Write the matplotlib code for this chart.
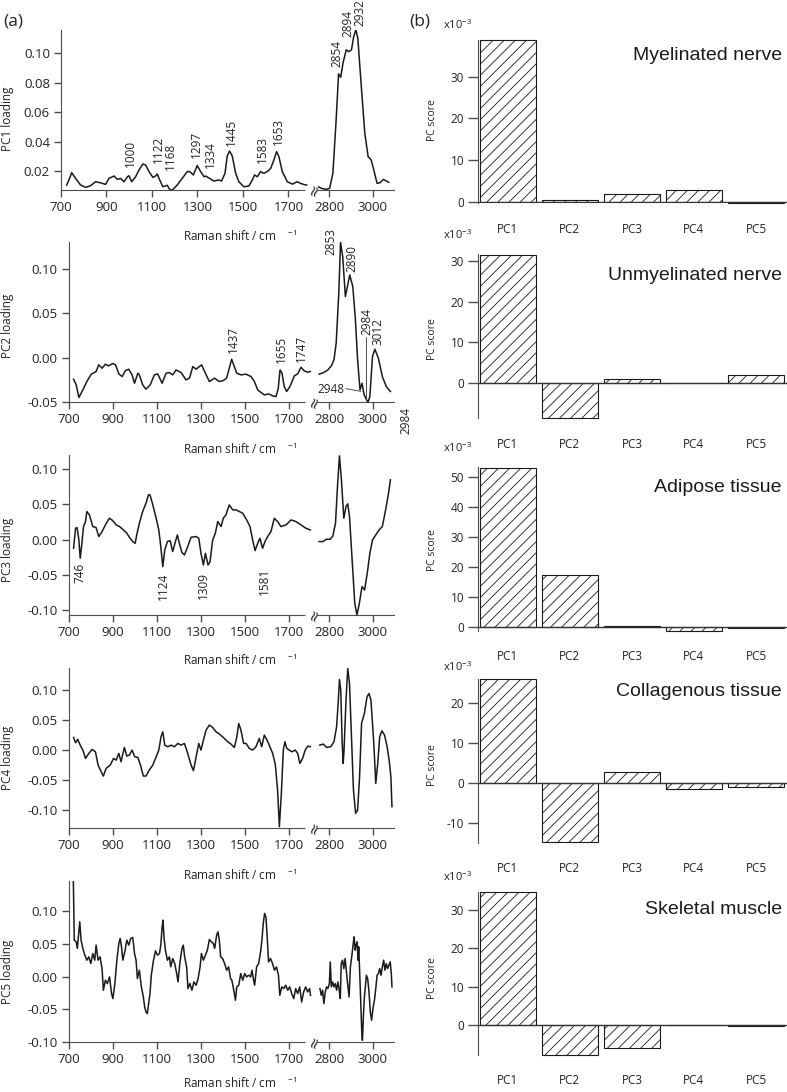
import numpy as np
import matplotlib
matplotlib.use("Agg")
import matplotlib.pyplot as plt
from matplotlib.ticker import FormatStrFormatter

plt.rcParams['font.family'] = ['Open Sans', 'DejaVu Sans']
plt.rcParams['mathtext.default'] = 'regular'
plt.rcParams['axes.unicode_minus'] = False
plt.rcParams['hatch.linewidth'] = 0.6

# PC loadings: (Raman shift / cm-1, loading)
pc1 = np.array([
    (725, 0.0105), (735, 0.0139), (747, 0.0189), (764, 0.015), (786, 0.0105), (808, 0.0089),
    (830, 0.010), (852, 0.0127), (874, 0.012), (896, 0.0109), (911, 0.015), (933, 0.0166),
    (948, 0.0143), (962, 0.015), (977, 0.0127), (992, 0.0161), (999, 0.0168), (1011, 0.0127),
    (1028, 0.0161), (1043, 0.0207), (1060, 0.0248), (1072, 0.0241), (1087, 0.0196), (1104, 0.0157),
    (1116, 0.0166), (1123, 0.018), (1134, 0.0139), (1148, 0.0093), (1167, 0.0103), (1178, 0.0075),
    (1189, 0.007), (1211, 0.0105), (1233, 0.015), (1255, 0.0196), (1266, 0.0196), (1282, 0.0173),
    (1299, 0.0237), (1314, 0.0196), (1329, 0.0161), (1336, 0.0166), (1353, 0.015), (1372, 0.0132),
    (1394, 0.0139), (1406, 0.0132), (1421, 0.0184), (1431, 0.0302), (1441, 0.0336), (1453, 0.0302),
    (1468, 0.0184), (1482, 0.0127), (1504, 0.0093), (1526, 0.0098), (1541, 0.0139), (1551, 0.0173),
    (1563, 0.0161), (1578, 0.0196), (1592, 0.0184), (1607, 0.0196), (1622, 0.0218), (1636, 0.0275),
    (1648, 0.0332), (1658, 0.0298), (1673, 0.0196), (1695, 0.0127), (1717, 0.0111), (1739, 0.0127),
    (1753, 0.0116), (1775, 0.0105), (1793, 0.0105),
    (2752, 0.0093), (2766, 0.0082), (2788, 0.0075), (2803, 0.0082), (2818, 0.0184), (2832, 0.0524),
    (2844, 0.086), (2854, 0.0837), (2864, 0.0932), (2879, 0.1023), (2891, 0.1011), (2903, 0.1023),
    (2913, 0.1113), (2923, 0.1159), (2932, 0.1102), (2949, 0.0751), (2964, 0.0456), (2979, 0.0298),
    (2993, 0.0275), (3005, 0.0207), (3020, 0.0116), (3034, 0.0121), (3049, 0.0143), (3063, 0.0132),
    (3073, 0.0123)])

pc2 = np.array([
    (723, -0.0244), (735, -0.0307), (747, -0.0449), (765, -0.0364), (783, -0.027), (803, -0.0187),
    (825, -0.0157), (837, -0.0082), (852, -0.012), (867, -0.0075), (882, -0.0094), (900, -0.0067),
    (913, -0.0082), (928, -0.0184), (943, -0.0214), (958, -0.0146), (973, -0.0131), (988, -0.0195),
    (999, -0.0289), (1014, -0.0176), (1021, -0.0195), (1036, -0.0307), (1051, -0.0356), (1070, -0.0307),
    (1089, -0.0195), (1104, -0.0184), (1124, -0.0289), (1142, -0.0176), (1157, -0.0169), (1172, -0.0195),
    (1187, -0.0139), (1210, -0.0169), (1232, -0.0251), (1248, -0.0232), (1263, -0.0101), (1278, -0.0131),
    (1293, -0.0101), (1303, -0.0082), (1320, -0.0176), (1338, -0.027), (1361, -0.0232), (1383, -0.027),
    (1401, -0.0259), (1416, -0.0232), (1428, -0.012), (1439, -0.0019), (1451, -0.0101), (1462, -0.0176),
    (1481, -0.0195), (1504, -0.0187), (1527, -0.0214), (1542, -0.027), (1557, -0.0364), (1572, -0.0394),
    (1587, -0.042), (1606, -0.0409), (1625, -0.0431), (1640, -0.0439), (1650, -0.0345), (1658, -0.0139),
    (1667, -0.0176), (1677, -0.0326), (1688, -0.0382), (1703, -0.0326), (1723, -0.0206), (1738, -0.0184),
    (1753, -0.0109), (1768, -0.015), (1783, -0.0165), (1795, -0.0157),
    (2755, -0.0187), (2776, -0.0169), (2795, -0.0139), (2811, -0.0094), (2823, -0.0026), (2833, 0.0161),
    (2845, 0.0724), (2853, 0.1297), (2863, 0.1136), (2875, 0.0686), (2886, 0.0817), (2895, 0.093),
    (2909, 0.0799), (2921, 0.0424), (2931, -0.0026), (2942, -0.0364), (2951, -0.0289), (2961, -0.042),
    (2978, -0.0506), (2987, -0.0439), (2999, 0.0011), (3010, 0.0094), (3026, -0.0008), (3044, -0.0214),
    (3062, -0.0326), (3081, -0.0382)])

pc3 = np.array([
    (723, -0.0123), (732, 0.0161), (739, 0.017), (747, -0.0005), (753, -0.0265), (760, -0.0076),
    (768, 0.0185), (777, 0.0256), (783, 0.0398), (795, 0.035), (810, 0.0185), (825, 0.017),
    (837, 0.0043), (852, 0.0114), (867, 0.0208), (885, 0.0303), (900, 0.027), (916, 0.0208),
    (931, 0.0185), (949, 0.0137), (964, 0.009), (979, 0.0019), (991, -0.0028), (1002, -0.0052),
    (1009, 0.0066), (1021, 0.0232), (1036, 0.0398), (1051, 0.0516), (1062, 0.0634), (1069, 0.0634),
    (1082, 0.0492), (1097, 0.0303), (1109, 0.0137), (1118, -0.0099), (1127, -0.0384), (1136, -0.0147),
    (1148, -0.0028), (1160, -0.0014), (1172, -0.017), (1183, -0.0043), (1193, 0.0066), (1202, -0.0052),
    (1214, -0.0185), (1225, -0.0218), (1240, -0.0099), (1255, 0.0033), (1278, 0.0043), (1290, 0.0019),
    (1300, -0.0194), (1311, -0.036), (1320, -0.0194), (1332, -0.036), (1341, -0.0313), (1353, -0.0005),
    (1365, 0.009), (1376, 0.0256), (1391, 0.0185), (1401, 0.0303), (1413, 0.035), (1428, 0.0492),
    (1444, 0.0421), (1459, 0.0421), (1474, 0.0398), (1489, 0.0374), (1507, 0.0279), (1522, 0.0185),
    (1534, -0.0005), (1545, -0.0156), (1557, -0.0052), (1567, 0.0019), (1579, -0.0123), (1590, -0.0028),
    (1602, 0.0043), (1617, 0.0114), (1632, 0.0303), (1647, 0.0256), (1662, 0.0185), (1685, 0.0208),
    (1708, 0.0279), (1730, 0.0256), (1753, 0.0208), (1775, 0.0161), (1795, 0.0137),
    (2755, -0.0028), (2773, -0.0028), (2788, 0.0005), (2806, 0.0005), (2818, 0.0052), (2830, 0.0232),
    (2839, 0.0753), (2848, 0.1188), (2857, 0.0848), (2868, 0.0303), (2878, 0.0469), (2886, 0.0507),
    (2894, 0.0327), (2906, -0.0289), (2918, -0.0904), (2928, -0.107), (2939, -0.0904), (2951, -0.0668),
    (2963, -0.0715), (2975, -0.0478), (2987, -0.0194), (2999, -0.0005), (3014, 0.0066), (3029, 0.0137),
    (3044, 0.0185), (3059, 0.0421), (3071, 0.0634), (3081, 0.0848)])

pc4 = np.array([
    (723, 0.0211), (732, 0.0122), (742, 0.0178), (753, 0.0083), (765, 0.0), (777, -0.0139),
    (792, -0.0056), (807, 0.0011), (822, -0.0028), (834, -0.025), (848, -0.0361), (858, -0.0433),
    (870, -0.0306), (889, -0.025), (904, -0.0139), (916, -0.0167), (928, -0.0056), (938, -0.0194),
    (953, 0.0044), (964, -0.01), (976, -0.0083), (988, 0.0), (1000, -0.0111), (1014, -0.0122),
    (1026, -0.025), (1039, -0.0433), (1051, -0.0433), (1066, -0.0333), (1082, -0.025), (1097, -0.0111),
    (1109, 0.0), (1119, 0.0222), (1127, 0.0306), (1136, 0.0083), (1149, 0.0056), (1165, 0.0083),
    (1180, 0.0056), (1195, 0.0111), (1210, 0.0083), (1225, 0.0111), (1240, -0.0056), (1255, -0.025),
    (1266, -0.0344), (1278, -0.0111), (1290, 0.0111), (1300, 0.0), (1311, 0.0167), (1323, 0.0333),
    (1338, 0.0417), (1353, 0.0378), (1368, 0.0306), (1383, 0.0267), (1401, 0.0211), (1421, 0.0139),
    (1436, 0.01), (1451, 0.0044), (1462, 0.0211), (1471, 0.0444), (1481, 0.0333), (1493, 0.0111),
    (1504, 0.0111), (1519, 0.0028), (1534, 0.0), (1549, 0.0056), (1564, 0.0194), (1575, 0.0056),
    (1587, 0.025), (1599, 0.0167), (1612, 0.0056), (1625, -0.0056), (1637, -0.025), (1647, -0.0667),
    (1655, -0.1278), (1664, -0.0722), (1673, 0.0), (1680, 0.0139), (1689, 0.0028), (1700, 0.0),
    (1712, -0.0028), (1727, 0.0), (1738, -0.0056), (1748, -0.0222), (1760, -0.0139), (1772, 0.0),
    (1784, 0.0067), (1795, 0.0056),
    (2758, 0.0083), (2774, 0.01), (2789, 0.0044), (2808, 0.0056), (2823, 0.0139), (2835, 0.0389),
    (2842, 0.0778), (2848, 0.1178), (2854, 0.1), (2860, 0.0167), (2865, -0.0222), (2869, 0.0),
    (2878, 0.0833), (2886, 0.1361), (2894, 0.1111), (2903, 0.0222), (2912, -0.0667), (2922, -0.1056),
    (2931, -0.1), (2940, -0.0444), (2949, 0.0444), (2962, 0.0611), (2974, 0.0889), (2983, 0.0944),
    (2992, 0.0833), (3005, 0.0111), (3014, -0.0556), (3023, -0.0222), (3032, 0.0222), (3042, 0.0322),
    (3054, 0.025), (3066, 0.0056), (3076, -0.0194), (3083, -0.0444), (3088, -0.0944)])

pc5 = np.array([
    (722, 0.147), (726, 0.0556), (735, 0.053), (740, 0.0429), (747, 0.0684), (751, 0.0837),
    (757, 0.0556), (765, 0.0429), (774, 0.0327), (783, 0.025), (792, 0.0301), (801, 0.0199),
    (810, 0.0352), (819, 0.025), (825, 0.048), (834, 0.025), (843, 0.0301), (852, 0.0122),
    (858, -0.0209), (867, -0.0056), (876, -0.0107), (886, -0.0005), (895, -0.026), (901, -0.0337),
    (910, -0.0107), (919, 0.025), (928, 0.0505), (934, 0.0582), (940, 0.0454), (946, 0.025),
    (955, 0.0378), (964, 0.0556), (973, 0.048), (982, 0.0582), (991, 0.0597), (999, 0.0352),
    (1006, 0.025), (1012, -0.0031), (1021, 0.0097), (1030, -0.0158), (1039, -0.0311), (1045, -0.0464),
    (1051, -0.0541), (1057, -0.0566), (1063, -0.0413), (1069, -0.026), (1075, 0.002), (1085, 0.025),
    (1094, 0.0393), (1103, 0.0327), (1112, 0.0352), (1118, 0.048), (1124, 0.076), (1128, 0.0862),
    (1133, 0.0582), (1139, 0.0403), (1148, 0.025), (1157, 0.0301), (1163, 0.0148), (1172, 0.0276),
    (1181, 0.0199), (1190, 0.0046), (1196, -0.0082), (1205, 0.0224), (1214, 0.0429), (1220, 0.048),
    (1226, 0.0301), (1235, 0.0148), (1241, -0.0184), (1250, -0.0107), (1259, -0.0209), (1268, -0.0082),
    (1278, -0.0133), (1287, -0.0031), (1296, 0.0148), (1302, 0.0352), (1311, 0.025), (1320, 0.0327),
    (1329, 0.0403), (1338, 0.0566), (1347, 0.0531), (1356, 0.0505), (1362, 0.0429), (1371, 0.0633),
    (1377, 0.0684), (1383, 0.0556), (1389, 0.0301), (1398, 0.0276), (1407, 0.0199), (1416, 0.0097),
    (1425, 0.0148), (1434, -0.0031), (1440, -0.0056), (1450, -0.0235), (1456, -0.0362), (1462, -0.0158),
    (1471, -0.0133), (1480, 0.0046), (1489, -0.0056), (1498, 0.0046), (1507, -0.0005), (1516, 0.002),
    (1525, -0.0005), (1531, 0.0097), (1537, -0.0031), (1543, -0.0133), (1552, 0.0148), (1561, 0.0199),
    (1570, 0.0378), (1576, 0.0556), (1582, 0.0811), (1588, 0.0964), (1594, 0.0913), (1600, 0.0607),
    (1606, 0.0224), (1615, 0.0276), (1624, 0.0199), (1633, 0.0097), (1642, 0.0148), (1651, 0.002),
    (1657, -0.0286), (1666, -0.0158), (1675, -0.0184), (1684, -0.0133), (1693, -0.0209), (1702, -0.0158),
    (1711, -0.026), (1720, -0.0337), (1729, -0.0184), (1738, -0.026), (1747, -0.0158), (1756, -0.0388),
    (1765, -0.0235), (1774, -0.0158), (1783, -0.0235), (1792, -0.0184), (1796, -0.0286),
    (2759, -0.0184), (2765, -0.0286), (2771, -0.0209), (2777, -0.0413), (2783, -0.0235), (2789, -0.0158),
    (2795, -0.0184), (2802, -0.0107), (2806, 0.0224), (2811, -0.0158), (2817, -0.0082), (2823, -0.0158),
    (2829, -0.0107), (2835, -0.0209), (2841, -0.0082), (2847, -0.0209), (2852, -0.0337), (2856, 0.0199),
    (2862, 0.025), (2868, 0.0122), (2874, 0.0276), (2880, 0.0071), (2886, -0.0133), (2892, -0.0311),
    (2898, 0.0148), (2905, 0.0327), (2911, 0.0505), (2915, 0.0607), (2920, 0.0403), (2924, 0.048),
    (2929, 0.0531), (2933, 0.025), (2936, 0.0454), (2941, 0.002), (2945, -0.0362), (2950, -0.0847),
    (2953, -0.0974), (2958, -0.0566), (2962, -0.0311), (2967, -0.0133), (2971, 0.002), (2977, -0.0031),
    (2983, -0.0235), (2989, -0.0541), (2995, -0.0668), (3002, -0.0464), (3008, -0.0362), (3014, -0.0184),
    (3020, 0.002), (3026, 0.0046), (3032, 0.0122), (3038, 0.002), (3044, 0.0148), (3050, 0.025),
    (3056, 0.0097), (3062, 0.0199), (3068, 0.0122), (3074, 0.0173), (3080, 0.0224), (3085, 0.0046),
    (3088, -0.0158)])

loadings = [pc1, pc2, pc3, pc4, pc5]
loading_names = ['PC1 loading', 'PC2 loading', 'PC3 loading', 'PC4 loading', 'PC5 loading']
loading_ylims = [(0.0071, 0.1158), (-0.05, 0.130), (-0.107, 0.120), (-0.13, 0.137), (-0.10, 0.146)]
loading_yticks = [[0.02, 0.04, 0.06, 0.08, 0.10],
                  [-0.05, 0.0, 0.05, 0.10],
                  [-0.10, -0.05, 0.0, 0.05, 0.10],
                  [-0.10, -0.05, 0.0, 0.05, 0.10],
                  [-0.10, -0.05, 0.0, 0.05, 0.10]]

# peak labels: (text, shift, loading at text edge)
peaks_pc1 = [('1000', 1006, 0.0229), ('1122', 1128, 0.0254), ('1168', 1182, 0.0207),
             ('1297', 1297, 0.0288), ('1334', 1355, 0.022), ('1445', 1448, 0.0372),
             ('1583', 1585, 0.0254), ('1653', 1656, 0.0377), ('2854', 2836, 0.0909),
             ('2894', 2889, 0.1113), ('2932', 2943, 0.1186)]
peaks_pc2 = [('1437', 1445, 0.005), ('1655', 1664, -0.0063), ('1747', 1754, -0.0045),
             ('2853', 2811, 0.1157), ('2890', 2903, 0.0968), ('2984', 2972, 0.0256),
             ('3012', 3025, 0.0143)]
peaks_pc3 = [('746', 752, -0.0335), ('1124', 1129, -0.0477), ('1309', 1313, -0.0455),
             ('1581', 1588, -0.0406)]

# PC scores (x10^-3)
pc_names = ['PC1', 'PC2', 'PC3', 'PC4', 'PC5']
tissues = ['Myelinated nerve', 'Unmyelinated nerve', 'Adipose tissue',
           'Collagenous tissue', 'Skeletal muscle']
myelinated = [38.8, 0.35, 1.8, 2.9, -0.35]
unmyelinated = [31.6, -8.8, 0.9, -0.1, 1.9]
adipose = [52.9, 17.4, 0.2, -1.3, -0.3]
collagenous = [26.0, -14.7, 2.9, -1.4, -0.85]
skeletal = [34.7, -7.6, -6.0, 0.15, -0.25]
scores = [myelinated, unmyelinated, adipose, collagenous, skeletal]
score_ylims = [(-0.4, 38.9), (-8.8, 31.7), (-1.3, 53.2), (-14.8, 26.1), (-7.7, 34.8)]
score_yticks = [[0, 10, 20, 30], [0, 10, 20, 30], [0, 10, 20, 30, 40, 50],
                [-10, 0, 10, 20], [0, 10, 20, 30]]

W, H = 787, 1092
fig = plt.figure(figsize=(W / 100, H / 100), dpi=100)
spine_col = '#4d4d4d'


def px_axes(x0, y0, x1, y1):
    return fig.add_axes([x0 / W, 1 - y1 / H, (x1 - x0) / W, (y1 - y0) / H])


def px_text(x, y, s, **kw):
    fig.text(x / W, 1 - y / H, s, **kw)


# ---------------- (a) loadings ----------------
left_rows = [(30, 190), (242, 402), (455, 615), (668, 828), (881, 1042)]
ylabel_y = [119, 326, 550, 758, 972]
xlabel_y = [236, 449, 660, 875, 1083]

for i, (top, bot) in enumerate(left_rows):
    x0 = 61 if i == 0 else 68.5
    ax_lo = px_axes(x0, top, 318, bot)
    ax_hi = px_axes(318, top, 393.5, bot)
    data = loadings[i]
    lo = data[data[:, 0] < 2000]
    hi = data[data[:, 0] > 2000]
    ax_lo.plot(lo[:, 0], lo[:, 1], color='#1a1a1a', lw=1.1)
    ax_hi.plot(hi[:, 0], hi[:, 1], color='#1a1a1a', lw=1.1)
    for ax in (ax_lo, ax_hi):
        ax.set_ylim(*loading_ylims[i])
        for s in ('top', 'right'):
            ax.spines[s].set_visible(False)
        ax.spines['bottom'].set_color(spine_col)
        ax.spines['left'].set_color(spine_col)
        ax.tick_params(colors=spine_col, labelcolor='#222222', labelsize=9.5,
                       length=5, width=1, direction='out', pad=3)
        ax.patch.set_alpha(0)
    ax_lo.set_xlim(700, 1830)
    ax_hi.set_xlim(2750, 3095)
    ax_lo.set_xticks([700, 900, 1100, 1300, 1500, 1700])
    ax_hi.set_xticks([2800, 3000])
    ax_lo.set_yticks(loading_yticks[i])
    ax_lo.yaxis.set_major_formatter(FormatStrFormatter('%.2f'))
    ax_hi.spines['left'].set_visible(False)
    ax_hi.tick_params(axis='y', left=False, labelleft=False)
    # axis break mark
    ax_lo.text(1812, 0, '\u2248', transform=ax_lo.get_xaxis_transform(),
               ha='center', va='center', rotation=70, fontsize=11, color='#222222',
               family='DejaVu Sans', clip_on=False,
               bbox=dict(facecolor='white', edgecolor='none', pad=0.2))
    px_text(8, ylabel_y[i], loading_names[i], rotation=90, ha='center', va='center',
            fontsize=8.5, color='#222222')
    px_text(240, xlabel_y[i], 'Raman shift / cm    $^{-1}$', ha='center', va='center',
            fontsize=8.5, color='#222222')

    if i == 0:
        peaks, va = peaks_pc1, 'bottom'
    elif i == 1:
        peaks, va = peaks_pc2, 'bottom'
    elif i == 2:
        peaks, va = peaks_pc3, 'top'
    else:
        peaks = []
    for lab, x, y in peaks:
        ax = ax_lo if x < 2000 else ax_hi
        ax.text(x, y, lab, rotation=90, ha='center', va=va, fontsize=8.5,
                color='#222222', clip_on=False)

    if i == 1:
        ax_hi.text(2873, -0.0363, '2948', ha='right', va='center', fontsize=8.5,
                   color='#222222', clip_on=False)
        ax_hi.plot([2877, 2945], [-0.035, -0.038], color='#333333', lw=0.6, clip_on=False)
        ax_hi.plot([2968, 2968], [0.0235, -0.048], color='#333333', lw=0.6, clip_on=False)

px_text(13, 21, '(a)', ha='center', va='center', fontsize=12.5, color='#222222')
px_text(406, 420, '2984', rotation=90, ha='center', va='center', fontsize=8.5, color='#222222')

# ---------------- (b) scores ----------------
right_rows = [(39.6, 203.4), (254.3, 418.3), (467.1, 630.6), (678.9, 842.5), (891.6, 1054.9)]
title_y = [56, 276, 488, 692, 910]
exp_y = [25, 235, 448, 667, 877]
score_label_y = [120, 339, 550, 765, 978]

for i, (top, bot) in enumerate(right_rows):
    ax = px_axes(478, top, 787, bot)
    xpos = np.arange(len(pc_names))
    bars = ax.bar(xpos, scores[i], width=0.895, facecolor='white', edgecolor='#1a1a1a',
                  linewidth=0.8, hatch='///')
    for b in bars:
        b.set_clip_on(False)
    ax.axhline(0, color='#333333', lw=1.0)
    ax.set_xlim(-0.48, 4.5)
    ax.set_ylim(*score_ylims[i])
    ax.set_yticks(score_yticks[i])
    ax.set_xticks(xpos)
    ax.set_xticklabels(pc_names)
    for s in ('top', 'right', 'bottom'):
        ax.spines[s].set_visible(False)
    ax.spines['left'].set_color(spine_col)
    ax.tick_params(axis='y', colors=spine_col, labelcolor='#222222', labelsize=8.5,
                   length=7, width=1, pad=3)
    ax.tick_params(axis='x', length=0, labelsize=8.5, labelcolor='#222222', pad=14)
    ax.patch.set_alpha(0)
    px_text(782, title_y[i], tissues[i], ha='right', va='center', fontsize=14,
            family='Liberation Sans', color='#1a1a1a')
    px_text(443, exp_y[i], 'x10$^{-3}$', ha='left', va='center', fontsize=8, color='#222222')
    px_text(432, score_label_y[i], 'PC score', rotation=90, ha='center', va='center',
            fontsize=7.5, color='#222222')

px_text(420, 21, '(b)', ha='center', va='center', fontsize=12.5, color='#222222')

fig.savefig('out.png', dpi=100)
